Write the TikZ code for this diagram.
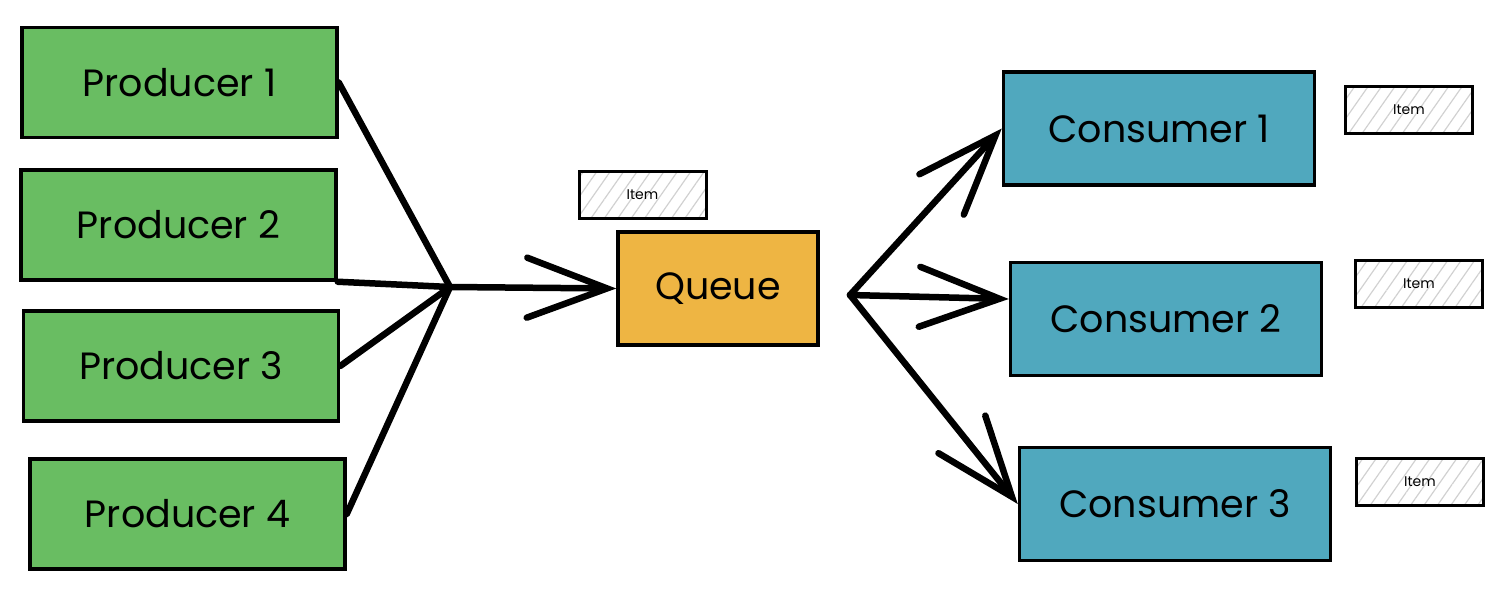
\documentclass[tikz,border=0pt]{standalone}
\usepackage{fontspec}
\setmainfont{Poppins}
\usepackage{tikz}
\usetikzlibrary{patterns.meta,arrows.meta}

\definecolor{prodgreen}{RGB}{105,189,98}
\definecolor{queueorange}{RGB}{238,181,67}
\definecolor{consblue}{RGB}{80,168,190}

\begin{document}
\begin{tikzpicture}[x=1pt,y=-1pt,
    main_node/.style={rectangle,draw=black,line width=3.5pt,font=\fontsize{38}{42}\selectfont},
    prod_node/.style={main_node,fill=prodgreen,minimum width=315pt,minimum height=110pt},
    cons_node/.style={main_node,fill=consblue,minimum width=311pt,minimum height=113pt},
    queue_node/.style={main_node,fill=queueorange,minimum width=200pt,minimum height=113pt},
    item_node/.style={rectangle,draw=black,line width=3pt,
        pattern={Lines[angle=55,distance=11pt,line width=1.2pt]},pattern color=black!18,
        minimum width=127pt,minimum height=47pt,font=\fontsize{14}{16}\selectfont},
    link/.style={line width=6.5pt,line cap=round},
    link_arrow/.style={link,-{Straight Barb[length=80pt,width=60pt,line cap=round]}}]

    \useasboundingbox (0,0) rectangle (1502,602);

    \node[prod_node] (1) at (179.5, 82.5) {Producer 1};
    \node[prod_node] (2) at (178.5, 225) {Producer 2};
    \node[prod_node] (3) at (181, 366) {Producer 3};
    \node[prod_node] (4) at (187.5, 514) {Producer 4};

    \node[queue_node] (5) at (718, 288.5) {Queue};
    \node[item_node] (6) at (642.5, 195) {Item};

    \node[cons_node] (7) at (1159, 128.5) {Consumer 1};
    \node[cons_node] (8) at (1166, 319) {Consumer 2};
    \node[cons_node] (9) at (1175, 504) {Consumer 3};

    \node[item_node] (10) at (1409, 110) {Item};
    \node[item_node] (11) at (1419, 284) {Item};
    \node[item_node] (12) at (1420, 481.5) {Item};

    \coordinate (merge) at (450, 287);
    \coordinate (split) at (850, 295);

    \draw[link] (1.east) -- (merge);
    \draw[link] (2.south east) -- (merge);
    \draw[link] (3.east) -- (merge);
    \draw[link] (4.east) -- (merge);
    \draw[link_arrow] (merge) -- (5.west);

    \draw[link_arrow] (split) -- (7.west);
    \draw[link_arrow] (split) -- ([yshift=20pt]8.west);
    \draw[link_arrow] (split) -- (9.west);

\end{tikzpicture}
\end{document}
